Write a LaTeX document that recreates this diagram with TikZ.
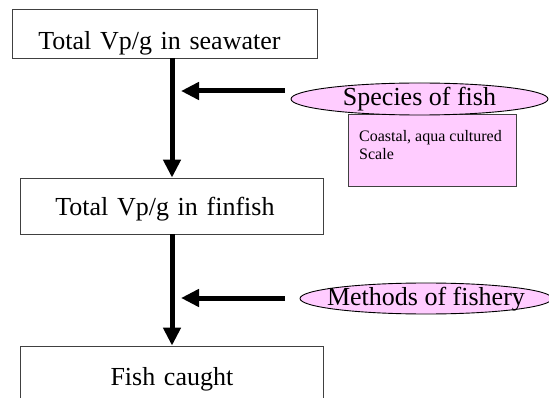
\documentclass[tikz,border=0pt]{standalone}
\usepackage{fontspec}
\setmainfont{Liberation Serif}
\usetikzlibrary{arrows.meta,shapes.geometric}
\definecolor{pinkfill}{HTML}{FFCCFF}
\definecolor{edgegray}{HTML}{404040}
\begin{document}
\begin{tikzpicture}[x=1pt,y=-1pt,
  bigtext/.style={font=\fontsize{26}{30}\selectfont},
  stage/.style={draw=edgegray, line width=0.8pt, inner sep=0pt, align=center, bigtext, anchor=base west},
  factor/.style={ellipse, draw=black, fill=pinkfill, line width=0.9pt, inner sep=0pt},
  factortext/.style={bigtext, text height=19pt, text depth=5pt, inner sep=0pt},
  detail/.style={draw=edgegray, fill=pinkfill, line width=1pt, inner sep=0pt, anchor=north west},
  notetext/.style={font=\fontsize{16}{18}\selectfont, inner sep=0pt},
  flow/.style={line width=5pt, -{Triangle[length=18pt,width=17pt]}},
]
\useasboundingbox (0,0) rectangle (549,398);
\clip (0,0) rectangle (549,398);
\fill[white] (0,0) rectangle (549,398);

% stages of the chain
\node[stage, text width=305pt, text height=41pt, text depth=8pt] (sea) at (12,50) {\hspace*{-11pt}Total Vp/g in seawater};
\node[stage, text width=303pt, text height=38pt, text depth=18pt] (fin) at (20,216) {\hspace*{-14pt}Total Vp/g in finfish};
\node[stage, text width=303pt, text height=39pt, text depth=35pt] (caught) at (20,385) {Fish caught};

% main flow
\coordinate (spine) at (172,0);
\draw[flow] (sea.south -| spine) -- (fin.north -| spine);
\draw[flow] (fin.south -| spine) -- (caught.north -| spine);

% influencing factors
\node[detail, minimum width=168pt, minimum height=72pt,
  label={[notetext, anchor=base west, xshift=11pt, yshift=-28pt]north west:{\vtop{\hbox{Coastal, aqua cultured}\hbox{Scale}}}}]
  (scope) at (348,114) {};
\node[factor, minimum width=257pt, minimum height=32pt,
  label={[factortext]center:Species of fish}] (species) at (419.5,99) {};
\node[factor, minimum width=252pt, minimum height=31pt,
  label={[factortext]center:Methods of fishery}] (methods) at (426,298.5) {};

\coordinate (h1) at (285,91);
\coordinate (h1tip) at (181,91);
\draw[flow] (h1) -- (h1tip);
\coordinate (h2) at (285,298);
\coordinate (h2tip) at (181,298);
\draw[flow] (h2) -- (h2tip);
\end{tikzpicture}
\end{document}
